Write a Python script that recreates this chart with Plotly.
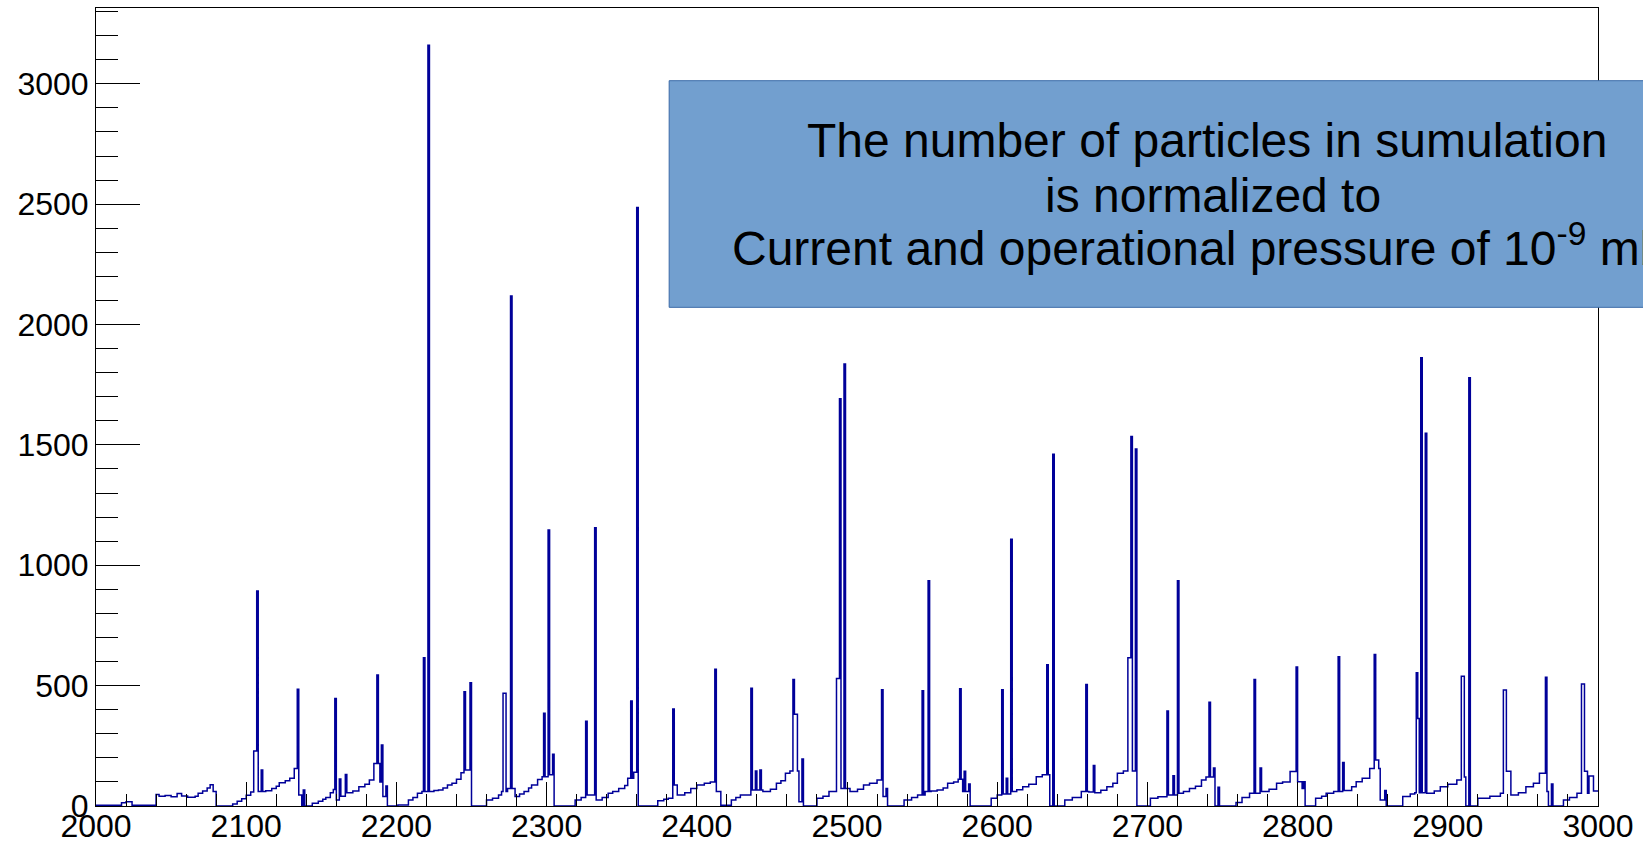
import numpy as np
import plotly.graph_objects as go

# ---- data ----
# background step levels: bin position where a level starts, and the level
BG_X = [2000, 2017, 2020, 2024, 2040, 2042, 2046, 2050, 2054, 2057, 2061, 2066, 2068, 2071, 2074, 2076, 2078, 2080,
        2091, 2094, 2097, 2100, 2103, 2108, 2113, 2117, 2120, 2122, 2126, 2129, 2132, 2135, 2137,
        2144, 2148, 2151, 2153, 2156, 2158, 2160, 2163, 2167, 2171, 2175, 2179, 2182, 2185, 2189, 2191, 2193,
        2201, 2208, 2211, 2214, 2217, 2222, 2225, 2228, 2231, 2234, 2237, 2240, 2243, 2246, 2249,
        2260, 2264, 2268, 2270, 2274, 2279, 2282, 2285, 2288, 2290, 2294, 2297, 2302, 2305,
        2319, 2323, 2327, 2333, 2337, 2341, 2344, 2348, 2352, 2354, 2358, 2361,
        2374, 2378, 2381, 2385, 2387, 2392, 2396, 2400, 2405, 2409, 2412, 2416,
        2423, 2426, 2429, 2437, 2444, 2449, 2453, 2456, 2459, 2462, 2468, 2471,
        2480, 2484, 2488, 2496, 2502, 2507, 2511, 2515, 2520, 2524, 2527,
        2538, 2543, 2547, 2552, 2556, 2560, 2564, 2567, 2571, 2574, 2577, 2582,
        2596, 2600, 2604, 2610, 2613, 2617, 2621, 2626, 2630, 2635,
        2645, 2650, 2656, 2661, 2665, 2669, 2673, 2677, 2680, 2684, 2693,
        2702, 2707, 2713, 2720, 2724, 2728, 2732, 2736, 2739, 2745,
        2759, 2763, 2768, 2776, 2781, 2786, 2790, 2795, 2800, 2805,
        2812, 2816, 2819, 2824, 2831, 2836, 2839, 2843, 2848, 2855, 2858,
        2870, 2875, 2878, 2886, 2891, 2895, 2900, 2906, 2911, 2912,
        2920, 2928, 2935, 2942, 2947, 2952, 2957, 2961, 2966, 2967,
        2977, 2981, 2986, 2997]
BG_V = [3, 14, 18, 3, 48, 40, 44, 38, 52, 42, 36, 40, 53, 62, 75, 88, 60, 0,
        8, 20, 30, 45, 58, 60, 63, 73, 82, 97, 105, 115, 156, 46, 0,
        11, 20, 28, 35, 55, 69, 25, 40, 55, 62, 80, 90, 108, 177, 100, 39, 0,
        4, 25, 35, 53, 60, 60, 64, 66, 75, 87, 95, 111, 138, 150, 0,
        25, 32, 46, 60, 73, 39, 50, 60, 75, 87, 110, 122, 130, 0,
        25, 35, 46, 25, 35, 53, 60, 73, 85, 115, 140, 0,
        22, 28, 32, 87, 46, 55, 73, 87, 94, 100, 60, 3,
        25, 35, 46, 66, 60, 70, 94, 105, 136, 145, 18, 0,
        32, 40, 60, 73, 60, 70, 87, 95, 108, 39, 0,
        25, 35, 46, 60, 62, 66, 75, 94, 100, 111, 60, 0,
        32, 46, 50, 60, 68, 80, 90, 122, 130, 0,
        25, 35, 60, 58, 55, 65, 80, 95, 136, 145, 0,
        32, 38, 46, 53, 60, 73, 82, 108, 120, 0,
        15, 35, 53, 60, 70, 94, 100, 143, 101, 0,
        32, 40, 53, 60, 64, 80, 101, 115, 156, 25, 0,
        39, 50, 55, 53, 62, 80, 90, 108, 120, 0,
        32, 40, 53, 46, 55, 80, 95, 136, 60, 0,
        25, 35, 53, 62]

# narrow peaks: first bin, number of bins, height
SPIKE_X = [2105, 2107, 2110, 2134, 2138, 2159, 2162, 2166, 2187, 2190, 2193, 2218, 2221, 2245, 2249,
           2271, 2276, 2298, 2301, 2304, 2326, 2332, 2356, 2360, 2384, 2412, 2436, 2439, 2442,
           2464, 2465, 2470, 2493, 2495, 2498, 2523, 2526, 2550, 2554, 2575, 2578, 2581,
           2603, 2606, 2609, 2633, 2637, 2659, 2664, 2687, 2689, 2692, 2713, 2717, 2720,
           2741, 2744, 2747, 2771, 2775, 2799, 2803, 2827, 2830, 2851, 2852, 2858,
           2879, 2880, 2882, 2885, 2909, 2914, 2937, 2939, 2965, 2969, 2989, 2991, 2994]
SPIKE_W = [2, 1, 1, 1, 1, 1, 1, 1, 1, 1, 1, 1, 1, 1, 1,
           2, 1, 1, 1, 1, 1, 1, 1, 1, 1, 1, 1, 1, 1,
           1, 2, 1, 2, 1, 1, 1, 1, 1, 1, 1, 1, 1,
           1, 1, 1, 1, 1, 1, 1, 2, 1, 1, 1, 1, 1,
           1, 1, 1, 1, 1, 1, 1, 1, 1, 1, 2, 1,
           1, 1, 1, 1, 2, 1, 2, 3, 1, 1, 2, 2, 3]
SPIKE_V = [228, 893, 150, 485, 66, 447, 112, 131, 544, 253, 83, 616, 3160, 475, 512,
           468, 2119, 385, 1147, 215, 352, 1156, 436, 2486, 403, 568, 489, 145, 150,
           526, 381, 195, 530, 1692, 1836, 483, 73, 479, 936, 487, 144, 91,
           483, 115, 1108, 587, 1461, 505, 168, 616, 1535, 1483, 395, 126, 936,
           431, 158, 78, 526, 158, 577, 73, 620, 181, 629, 191, 64,
           554, 363, 1862, 1548, 539, 1779, 482, 144, 535, 91, 507, 144, 125]

X_MIN, X_MAX = 2000, 3000
Y_TICKS = [0, 500, 1000, 1500, 2000, 2500, 3000]
X_TICKS = [2000, 2100, 2200, 2300, 2400, 2500, 2600, 2700, 2800, 2900, 3000]

BOX_LINES = ["The number of particles in sumulation",
             "is normalized to",
             "Current and operational pressure of 10<sup>-9</sup> mbar"]

# ---- histogram assembly ----
edges = np.arange(X_MIN, X_MAX + 1)
centers = edges[:-1] + 0.5
idx = np.searchsorted(np.array(BG_X), centers, side="right") - 1
h = np.array(BG_V, dtype=float)[idx]
for sx, sw, sv in zip(SPIKE_X, SPIKE_W, SPIKE_V):
    i0 = sx - X_MIN
    h[i0:i0 + sw] = sv
yvals = np.append(h, h[-1])

fig = go.Figure()
fig.add_trace(go.Scatter(x=edges, y=yvals, mode="lines",
                         line=dict(color="#000099", width=1.5, shape="hv"),
                         hoverinfo="skip", showlegend=False))

FONT = "Liberation Sans, Arial, sans-serif"
fig.update_layout(
    width=1643, height=845,
    margin=dict(l=96, r=45, t=8, b=39, autoexpand=False),
    paper_bgcolor="white", plot_bgcolor="white",
    showlegend=False,
    font=dict(family=FONT, size=32, color="black"),
)
fig.update_xaxes(range=[X_MIN, X_MAX], tickvals=X_TICKS, ticktext=[str(v) for v in X_TICKS],
                 ticks="inside", ticklen=24, tickwidth=1, tickcolor="black", automargin=False,
                 ticklabelstandoff=-8,
                 minor=dict(dtick=20, tick0=2000, ticks="inside", ticklen=12, tickcolor="black", tickwidth=1, showgrid=False),
                 showgrid=False, zeroline=False, showline=True, linecolor="black", linewidth=1, mirror=True,
                 tickfont=dict(family=FONT, size=32, color="black"))
fig.update_yaxes(range=[0, 3315], tickvals=Y_TICKS, ticktext=[str(v) for v in Y_TICKS],
                 ticks="inside", ticklen=44, tickwidth=1, tickcolor="black", automargin=False,
                 minor=dict(dtick=100, tick0=0, ticks="inside", ticklen=22, tickcolor="black", tickwidth=1, showgrid=False),
                 showgrid=False, zeroline=False, showline=True, linecolor="black", linewidth=1, mirror=True,
                 tickfont=dict(family=FONT, size=32, color="black"))

# text box
fig.add_shape(type="rect", xref="paper", yref="paper",
              x0=0.3816, x1=1.05, y0=0.6249, y1=0.9089,
              fillcolor="#729fcf", line=dict(color="#3b6aa8", width=1), layer="above")
fig.add_annotation(xref="paper", yref="paper", x=0.7397, y=(806 - 141) / 798, xanchor="center", yanchor="middle",
                   text=BOX_LINES[0], showarrow=False, font=dict(family=FONT, size=48, color="black"))
fig.add_annotation(xref="paper", yref="paper", x=0.7437, y=(806 - 195) / 798, xanchor="center", yanchor="middle",
                   text=BOX_LINES[1], showarrow=False, font=dict(family=FONT, size=48, color="black"))
fig.add_annotation(xref="paper", yref="paper", x=(730 - 95.7) / 1502.3, y=(806 - 245) / 798, xanchor="left", yanchor="middle",
                   text=BOX_LINES[2], showarrow=False, font=dict(family=FONT, size=48, color="black"))

fig.write_html("out.html")
